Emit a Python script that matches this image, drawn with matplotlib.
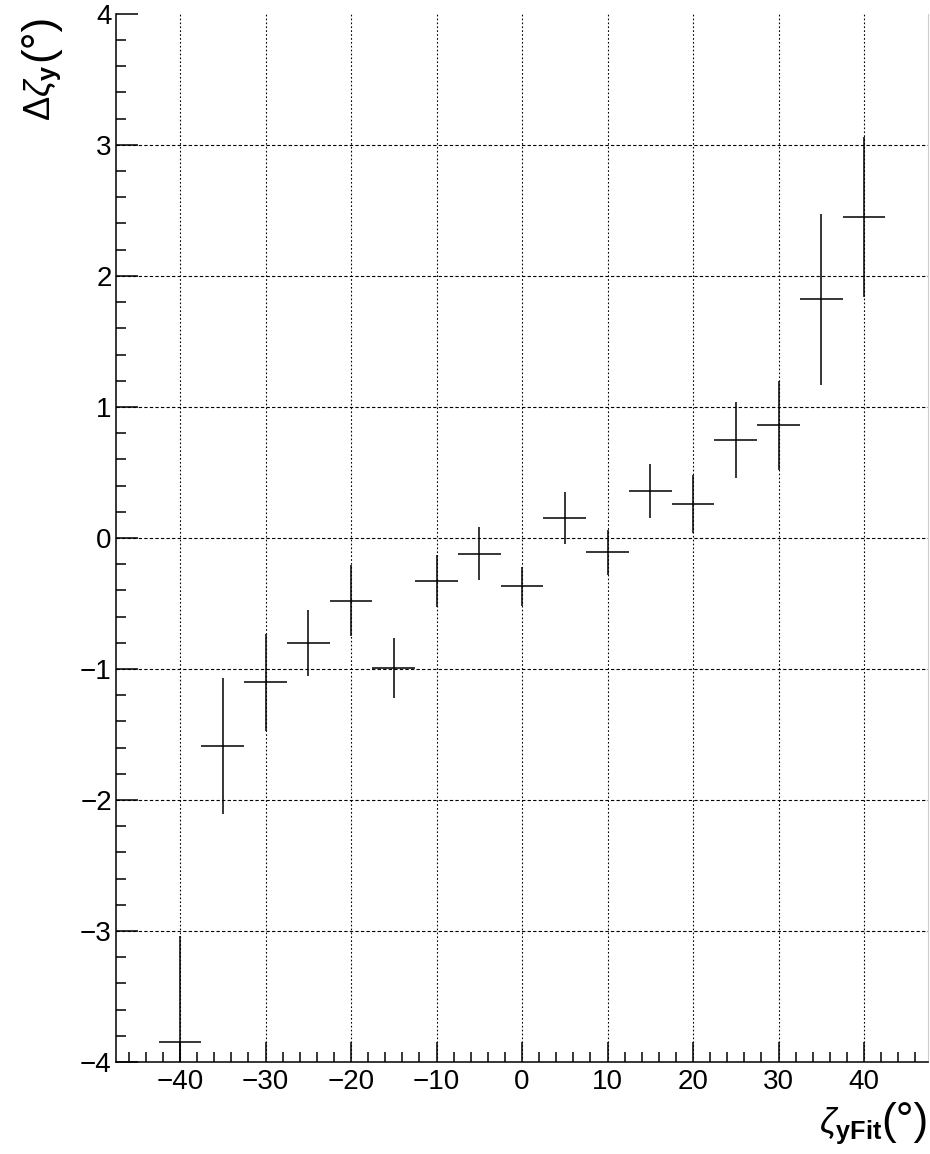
import numpy as np
import matplotlib
matplotlib.use("Agg")
import matplotlib.pyplot as plt
from matplotlib.ticker import MultipleLocator

plt.rcParams['font.family'] = ['Liberation Sans', 'DejaVu Sans']
plt.rcParams['mathtext.fontset'] = 'custom'
plt.rcParams['mathtext.rm'] = 'Liberation Sans'
plt.rcParams['mathtext.it'] = 'Liberation Sans:italic'
plt.rcParams['mathtext.bf'] = 'Liberation Sans:bold'

# bin centres (deg), bin half-width 2.5
zeta_fit = [-40, -35, -30, -25, -20, -15, -10, -5, 0, 5, 10, 15, 20, 25, 30, 35, 40]
delta_zeta = [-3.85, -1.59, -1.10, -0.80, -0.48, -0.99, -0.33, -0.12, -0.37, 0.15,
              -0.11, 0.36, 0.26, 0.75, 0.86, 1.82, 2.45]
delta_err = [0.81, 0.52, 0.37, 0.25, 0.27, 0.23, 0.20, 0.20, 0.15, 0.20,
             0.17, 0.205, 0.22, 0.29, 0.34, 0.65, 0.61]
half_width = [2.5] * len(zeta_fit)

fig = plt.figure(figsize=(9.3, 11.54), dpi=100)
ax = fig.add_axes([0.1247, 0.0797, 0.8733, 0.9083])

ax.set_xlim(-47.5, 47.5)
ax.set_ylim(-4, 4)

# grid only inside the frame (like ROOT)
for gx in np.arange(-40, 41, 10):
    ax.axvline(gx, color='black', linestyle=(0, (1.5, 2)), linewidth=0.8, zorder=0)
for gy in np.arange(-3, 4, 1):
    ax.axhline(gy, color='black', linestyle=(0, (3, 2)), linewidth=0.8, zorder=0)

ax.errorbar(zeta_fit, delta_zeta, yerr=delta_err, xerr=half_width,
            fmt='none', ecolor='black', elinewidth=1.1, capsize=0)

ax.xaxis.set_major_locator(MultipleLocator(10))
ax.xaxis.set_minor_locator(MultipleLocator(2))
ax.yaxis.set_major_locator(MultipleLocator(1))
ax.yaxis.set_minor_locator(MultipleLocator(0.2))

ax.tick_params(which='both', direction='in', top=False, right=False,
               labelsize=20, width=1.1, colors='black')
ax.tick_params(axis='x', which='major', length=14.5, pad=5)
ax.tick_params(axis='y', which='major', length=16, pad=3)
ax.tick_params(which='minor', length=7.2)

for side in ['left', 'bottom']:
    ax.spines[side].set_linewidth(1.1)
ax.spines['top'].set_visible(False)
ax.spines['right'].set_color('#cccccc')
ax.spines['right'].set_linewidth(0.8)

# x axis title: zeta_yFit (deg), with tall brackets
ax.annotate('(°)', xy=(1.0, -0.058), xycoords='axes fraction',
            ha='right', va='center', fontsize=32)
ax.annotate(r'$\zeta_{\mathbf{yFit}}$', xy=(1.0, -0.058), xycoords='axes fraction',
            xytext=(-33, -2), textcoords='offset points',
            ha='right', va='center', fontsize=26)

# y axis title: Delta zeta_y (deg)
ax.annotate('(°)', xy=(-0.094, 1.0), xycoords='axes fraction',
            ha='center', va='top', rotation=90, fontsize=32)
ax.annotate(r'$\Delta\zeta_{\mathbf{y}}$', xy=(-0.094, 1.0), xycoords='axes fraction',
            xytext=(2, -36), textcoords='offset points',
            ha='center', va='top', rotation=90, fontsize=26)

fig.savefig("out.png", dpi=100)
